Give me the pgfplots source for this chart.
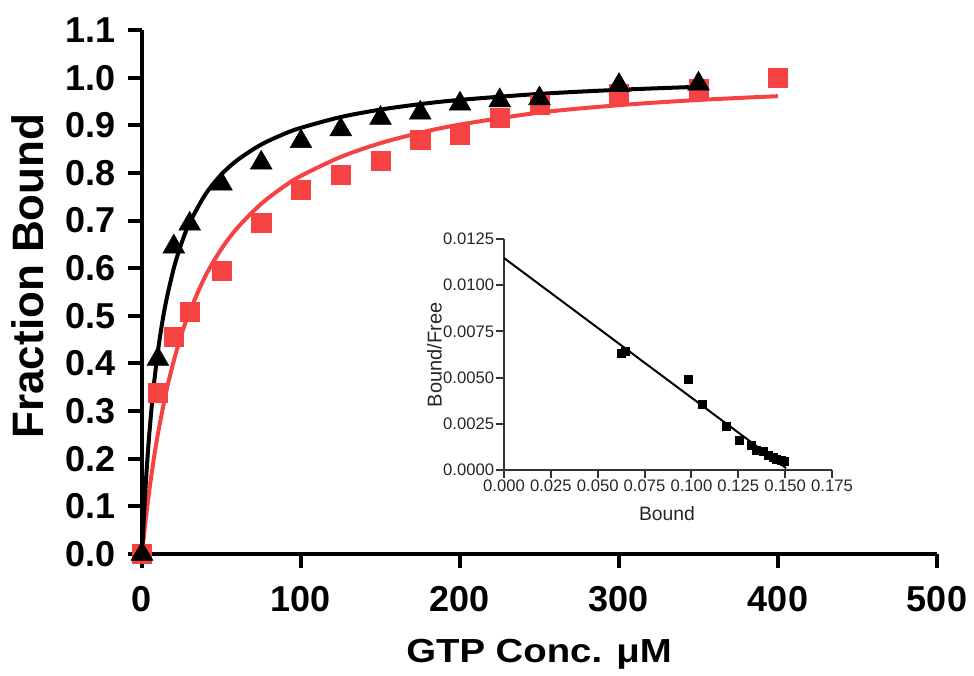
\documentclass[border=0pt]{standalone}
\usepackage{fontspec}
\setmainfont{Liberation Sans}
\usepackage{pgfplots}
\pgfplotsset{compat=1.18}
\definecolor{myred}{RGB}{246,66,66}
\begin{document}
\begin{tikzpicture}[x=1pt,y=1pt]
\useasboundingbox (-106.5,-90.75) rectangle (624,415.5);
\begin{axis}[
  at={(0pt,0pt)}, anchor=south west, scale only axis,
  width=596.25pt, height=393pt,
  xmin=0, xmax=500, ymin=0, ymax=1.1,
  clip=false,
  axis x line*=bottom, axis y line*=left,
  axis line style={line width=3pt, black},
  xtick={0,100,200,300,400,500},
  ytick={0,0.1,0.2,0.3,0.4,0.5,0.6,0.7,0.8,0.9,1.0,1.1},
  tick style={line width=3pt, black},
  major tick length=10.5pt, tick align=outside,
  /pgf/number format/assume math mode=true,
  tick label style={font=\bfseries\fontsize{27}{30}\selectfont},
  yticklabel style={/pgf/number format/.cd, fixed, fixed zerofill, precision=1, /tikz/.cd, xshift=-6pt},
  xticklabel style={yshift=-10pt},
  xlabel={\scalebox{1.15}[1]{GTP Conc. μM}},
  ylabel={Fraction Bound},
  xlabel style={font=\bfseries\fontsize{25}{28}\selectfont, at={(axis description cs:0.4994,-0.2074)}, anchor=base},
  ylabel style={font=\bfseries\fontsize{33}{36}\selectfont, at={(axis description cs:-0.1245,0.5305)}, anchor=base},
]
\addplot[myred, line width=3pt, smooth] coordinates {
(0,0) (2,0.0625) (4,0.1179) (6,0.1673) (8,0.2118) (10,0.2519) (15,0.3372) (20,0.4058) (25,0.4623) (30,0.5096) (40,0.5843) (50,0.6407) (60,0.6847) (75,0.7352) (90,0.7732) (100,0.7938) (125,0.8336) (150,0.8625) (175,0.8843) (200,0.9015) (250,0.9266) (300,0.9422) (350,0.9531) (400,0.9611)};
\addplot[only marks, mark=square*, mark size=7.25pt, myred, mark options={fill=myred, draw=myred}] coordinates {
(0,0) (10,0.339) (20,0.456) (30,0.509) (50,0.595) (75,0.695) (100,0.764) (125,0.796) (150,0.825) (175,0.870) (200,0.880) (225,0.916) (250,0.9425) (300,0.966) (350,0.976) (400,1.0)};
\addplot[black, line width=3pt, smooth] coordinates {
(0,0) (2,0.1275) (4,0.2267) (6,0.306) (8,0.3709) (10,0.425) (12,0.4708) (15,0.5276) (20,0.6) (25,0.6538) (30,0.6955) (40,0.7556) (50,0.7969) (60,0.827) (75,0.8596) (90,0.8827) (100,0.8947) (125,0.9173) (150,0.9329) (175,0.9444) (200,0.9533) (250,0.9659) (300,0.9745) (350,0.9808)};
\addplot[only marks, mark=triangle*, mark size=9.4pt, black] coordinates {
(0,0) (10,0.409) (20,0.645) (30,0.693) (50,0.777) (75,0.821) (100,0.866) (125,0.891) (150,0.915) (175,0.926) (200,0.945) (225,0.952) (250,0.956) (300,0.984) (350,0.987)};
\end{axis}
\begin{axis}[
  at={(271.5pt,63pt)}, anchor=south west, scale only axis,
  width=246pt, height=173.25pt,
  xmin=0, xmax=0.175, ymin=0, ymax=0.0125,
  clip=false,
  axis x line*=bottom, axis y line*=left,
  axis line style={line width=1.5pt, black!80},
  tick style={line width=1.5pt, black!80},
  major tick length=5.7pt, tick align=outside,
  xtick={0,0.025,0.05,0.075,0.1,0.125,0.15,0.175},
  ytick={0,0.0025,0.005,0.0075,0.01,0.0125},
  scaled x ticks=false, scaled y ticks=false,
  /pgf/number format/assume math mode=true,
  tick label style={font=\fontsize{12.5}{14}\selectfont, text=black!85, inner sep=1.5pt},
  xticklabel style={/pgf/number format/.cd, fixed, fixed zerofill, precision=3},
  yticklabel style={/pgf/number format/.cd, fixed, fixed zerofill, precision=4},
  xlabel={Bound}, ylabel={Bound/Free},
  xlabel style={font=\fontsize{14.5}{17}\selectfont, text=black!85, at={(axis description cs:0.497,-0.2165)}, anchor=base},
  ylabel style={font=\fontsize{15}{17}\selectfont, text=black!85, at={(axis description cs:-0.19,0.498)}, anchor=base},
]
\addplot[black, line width=1.5pt] coordinates {(0,0.01147) (0.1505,0.0001)};
\addplot[only marks, mark=square*, mark size=3pt, black] coordinates {
(0.0625,0.0063) (0.0645,0.0064) (0.0984,0.00491) (0.1057,0.00356) (0.1186,0.00238) (0.1254,0.00163) (0.1317,0.00135) (0.1348,0.00108) (0.1384,0.00099) (0.141,0.00081) (0.1437,0.00069) (0.1455,0.00058) (0.1478,0.0005) (0.1496,0.00045)};
\end{axis}
\end{tikzpicture}
\end{document}
